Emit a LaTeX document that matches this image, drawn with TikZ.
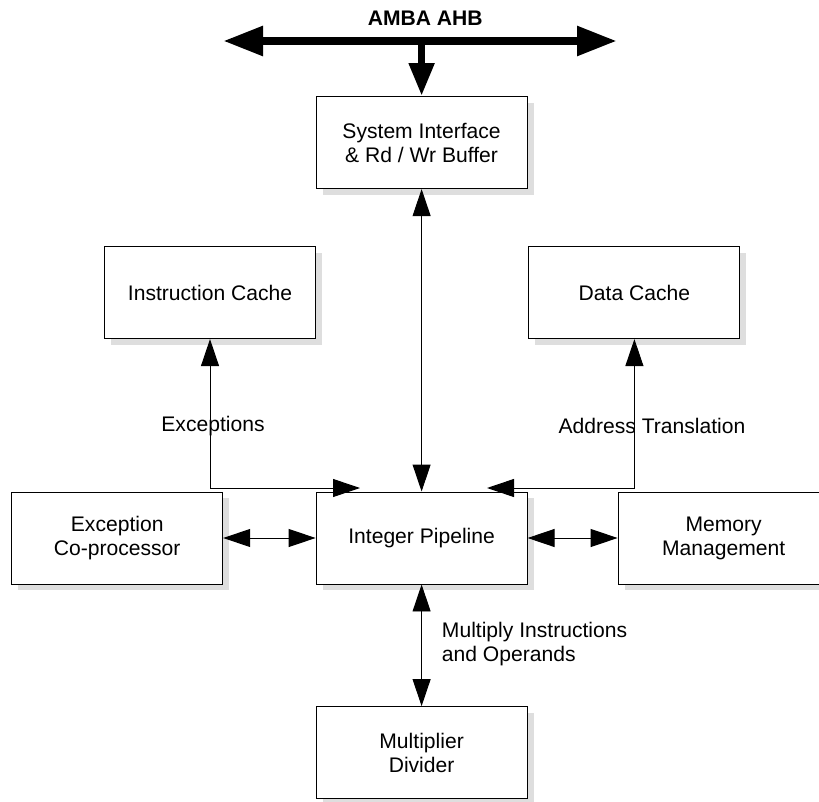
\documentclass[tikz,border=0pt]{standalone}
\usepackage{fontspec}
\setmainfont{Liberation Sans}
\usetikzlibrary{arrows.meta,shadows}

\begin{document}
\begin{tikzpicture}[
    every node/.style={font=\fontsize{15}{17}\selectfont},
    blk/.style={draw,line width=.7pt,fill=white,minimum width=5.275cm,minimum height=2.3cm,
      inner sep=0pt,align=center,
      preaction={fill=black!13,draw=none,transform canvas={xshift=.16cm,yshift=-.16cm}}},
    lnk/.style={line width=.7pt,{Triangle[length=.675cm,width=.45cm]}-{Triangle[length=.675cm,width=.45cm]}}]
    \useasboundingbox (0,0) rectangle (20.475,20.025);
    \node[blk] (sys) at (10.54,16.46) {System Interface\\\& Rd / Wr Buffer};
    \node[blk] (icache) at (5.25,12.71) {Instruction Cache};
    \node[blk] (dcache) at (15.86,12.71) {Data Cache};
    \node[blk] (exc) at (2.93,6.575) {Exception\\Co-processor};
    \node[blk] (ip) at (10.54,6.575) {Integer Pipeline};
    \node[blk] (mm) at (18.09,6.575) {Memory\\Management};
    \node[blk] (md) at (10.54,1.21) {Multiplier\\Divider};
    \coordinate (busl) at (5.575,19);
    \coordinate (busr) at (15.425,19);
    \coordinate (bus) at (sys.north |- busl);
    \coordinate (excin) at (9,7.825);
    \coordinate (atin) at (12.175,7.825);
    \node[font=\bfseries\fontsize{15}{17}\selectfont] (ahb) at (10.63,19.575) {AMBA AHB};
    \draw[line width=.21cm,{Triangle[length=1cm,width=.7cm]}-{Triangle[length=1cm,width=.7cm]}] (busl) -- (busr);
    \draw[line width=.19cm,-{Triangle[length=.825cm,width=.6cm]}] (bus) -- (sys.north);
    \draw[lnk] (sys) -- (ip);
    \draw[lnk] (icache.south) |- (excin);
    \draw[lnk] (dcache.south) |- (atin);
    \draw[lnk] (exc) -- (ip);
    \draw[lnk] (ip) -- (mm);
    \draw[lnk] (ip) -- (md);
    \node (exlbl) at (5.325,9.375) {Exceptions};
    \node (atlbl) at (16.3,9.375) {Address Translation};
    \node[anchor=west,align=left] (mullbl) at (10.925,3.925) {Multiply Instructions\\and Operands};
\end{tikzpicture}
\end{document}
